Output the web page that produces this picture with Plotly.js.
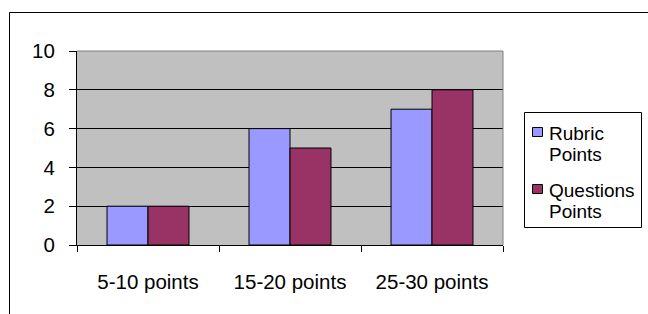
<!DOCTYPE html>
<html>
<head>
<meta charset="utf-8">
<script src="https://cdn.plot.ly/plotly-3.0.1.min.js"></script>
<style>html,body{margin:0;padding:0;background:#fff;}#chart{width:648px;height:314px;}</style>
</head>
<body>
<div id="chart"></div>
<script>
var categories = ["5-10 points", "15-20 points", "25-30 points"];
var rubricPoints = [2, 6, 7];
var questionsPoints = [2, 5, 8];
var seriesNames = ["Rubric Points", "Questions Points"];
var seriesColors = ["#9999FF", "#993366"];

var font = {family: "Liberation Sans, Arial, sans-serif", size: 20.5, color: "#000"};
var legendFont = {family: "Liberation Sans, Arial, sans-serif", size: 19, color: "#000"};

var traces = [
  {type: "bar", x: categories, y: rubricPoints, name: seriesNames[0],
   marker: {color: seriesColors[0], line: {color: "#000", width: 1}}},
  {type: "bar", x: categories, y: questionsPoints, name: seriesNames[1],
   marker: {color: seriesColors[1], line: {color: "#000", width: 1}}}
];

var L = 77, R = 503, T = 51, B = 245;
function px(x){ return (x - L) / (R - L); }
function py(y){ return (B - y) / (B - T); }

var shapes = [
  {type: "line", xref: "paper", yref: "paper", x0: 0, x1: 1, y0: 1, y1: 1, line: {color: "#808080", width: 1}},
  {type: "line", xref: "paper", yref: "paper", x0: 1, x1: 1, y0: 0, y1: 1, line: {color: "#808080", width: 1}},
  {type: "line", xref: "paper", yref: "paper", x0: px(9.5), x1: px(660), y0: py(12.5), y1: py(12.5), line: {color: "#000", width: 1}},
  {type: "line", xref: "paper", yref: "paper", x0: px(9.5), x1: px(9.5), y0: py(12.5), y1: py(330), line: {color: "#000", width: 1}},
  // legend box
  {type: "rect", xref: "paper", yref: "paper", x0: px(524.5), x1: px(641.5), y0: py(112.5), y1: py(227.5),
   line: {color: "#000", width: 1}, fillcolor: "#fff", layer: "above"}
];
var annotations = [];
var itemTop = [127, 184];
for (var i = 0; i < seriesNames.length; i++) {
  var t = itemTop[i];
  shapes.push({type: "rect", xref: "paper", yref: "paper",
    x0: px(532.5), x1: px(542.5), y0: py(t + 0.5), y1: py(t + 9.5),
    line: {color: "#000", width: 1}, fillcolor: seriesColors[i], layer: "above"});
  var words = seriesNames[i].split(" ");
  for (var j = 0; j < words.length; j++) {
    annotations.push({xref: "paper", yref: "paper", x: px(548), y: py(t + 6 + j * 21.5),
      xanchor: "left", yanchor: "middle", showarrow: false, borderpad: 0,
      text: words[j], font: legendFont});
  }
}

var layout = {
  width: 648, height: 314,
  margin: {l: L, r: 648 - R, t: T, b: 314 - B, pad: 0, autoexpand: false},
  paper_bgcolor: "#fff",
  plot_bgcolor: "#C0C0C0",
  font: font,
  barmode: "group",
  bargap: 0.423,
  bargroupgap: 0,
  showlegend: false,
  xaxis: {
    type: "category", automargin: false,
    showgrid: false, zeroline: false,
    showline: true, linecolor: "#000", linewidth: 1,
    ticks: "outside", tickson: "boundaries", ticklen: 6, tickcolor: "#000", tickwidth: 1,
    ticklabelstandoff: 18,
    tickfont: font, fixedrange: true
  },
  yaxis: {
    range: [0, 10], dtick: 2, tick0: 0, automargin: false,
    showgrid: true, gridcolor: "#000", gridwidth: 1,
    zeroline: false,
    showline: true, linecolor: "#000", linewidth: 1,
    ticks: "outside", ticklen: 7, tickcolor: "#000", tickwidth: 1,
    ticklabelstandoff: 10,
    tickfont: font, fixedrange: true
  },
  shapes: shapes,
  annotations: annotations
};

Plotly.newPlot("chart", traces, layout, {displayModeBar: false, staticPlot: true});
</script>
</body>
</html>
